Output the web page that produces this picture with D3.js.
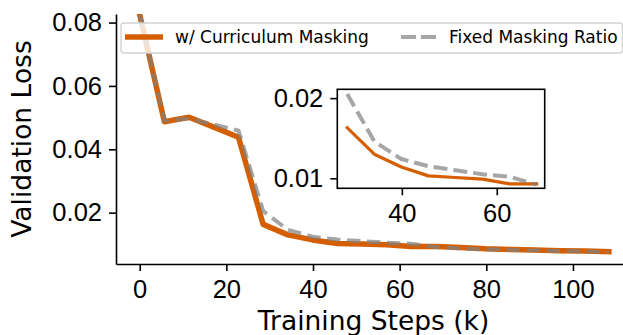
<!DOCTYPE html>
<html>
<head>
<meta charset="utf-8">
<script src="https://cdn.jsdelivr.net/npm/d3@7"></script>
<style>
  body { margin: 0; background: #fff; }
  svg { display: block; font-family: "DejaVu Sans", sans-serif; }
</style>
</head>
<body>
<svg id="chart" width="623" height="335"></svg>
<script>
// training steps (k)
const steps = [0, 5.7, 11.4, 17.1, 22.8, 28.5, 34.2, 39.9, 45.6, 51.3, 57.0, 62.7, 68.4, 74.1, 79.8, 85.5, 91.2, 96.9, 102.6, 108.3];
const curriculumLoss = [0.0825, 0.0487, 0.0501, 0.0470, 0.0438, 0.0163, 0.0130, 0.0114, 0.0103, 0.0101, 0.0099, 0.0093, 0.0093, 0.0090, 0.0086, 0.0084, 0.0082, 0.0080, 0.0079, 0.0077];
const fixedLoss = [0.0825, 0.0490, 0.0497, 0.0478, 0.0459, 0.0205, 0.0146, 0.0124, 0.0115, 0.0110, 0.0105, 0.0102, 0.0092, 0.0087, 0.0084, 0.0083, 0.0081, 0.0079, 0.0078, 0.0076];
const seriesNames = ["w/ Curriculum Masking", "Fixed Masking Ratio"];
const xTicks = [0, 20, 40, 60, 80, 100];
const yTicks = [0.02, 0.04, 0.06, 0.08];
const insetRange = [5, 12]; // index range shown in the zoom box
const insetXTicks = [40, 60];
const insetYTicks = [0.01, 0.02];

const orange = "#d55e00";
const gray = "#808080";

const svg = d3.select("#chart");

// main axes
const x = d3.scaleLinear().domain([-5.47, 113.4]).range([116, 631]);
const y = d3.scaleLinear().domain([0.0038, 0.0827]).range([264, 14]);

svg.append("defs").append("clipPath").attr("id", "mainclip")
    .append("rect").attr("x", 116).attr("y", 14).attr("width", 515).attr("height", 250);

function styleAxis(g) {
    g.selectAll("path.domain").attr("stroke", "#000").attr("stroke-width", 1.6);
    g.selectAll(".tick line").attr("stroke", "#000").attr("stroke-width", 1.6);
    g.selectAll(".tick text").attr("fill", "#000").style("font-size", "25.5px");
}

const xAxis = svg.append("g")
    .attr("transform", "translate(0,264)")
    .call(d3.axisBottom(x).tickValues(xTicks).tickSize(7).tickSizeOuter(0).tickPadding(9).tickFormat(d3.format("d")));
styleAxis(xAxis);

const yAxis = svg.append("g")
    .attr("transform", "translate(116,0)")
    .call(d3.axisLeft(y).tickValues(yTicks).tickSize(7).tickSizeOuter(0).tickPadding(7).tickFormat(d3.format(".2f")));
styleAxis(yAxis);

svg.append("text")
    .attr("transform", "translate(31,139) rotate(-90)")
    .attr("text-anchor", "middle")
    .style("font-size", "26.5px")
    .text("Validation Loss");

svg.append("text")
    .attr("x", 373.5).attr("y", 330)
    .attr("text-anchor", "middle")
    .style("font-size", "26.5px")
    .text("Training Steps (k)");

const mainLine = (vals) => d3.line()
    .x((d, i) => x(steps[i]))
    .y(d => y(d))(vals);

const plot = svg.append("g").attr("clip-path", "url(#mainclip)");
plot.append("path")
    .attr("d", mainLine(curriculumLoss))
    .attr("fill", "none")
    .attr("stroke", orange)
    .attr("stroke-width", 5.5)
    .attr("stroke-linejoin", "round")
    .attr("stroke-linecap", "square");
plot.append("path")
    .attr("d", mainLine(fixedLoss))
    .attr("fill", "none")
    .attr("stroke", gray)
    .attr("stroke-opacity", 0.7)
    .attr("stroke-width", 4)
    .attr("stroke-dasharray", "13.5,6.5");

// legend
const legend = svg.append("g");
legend.append("rect")
    .attr("x", 121).attr("y", 23).attr("width", 501.5).attr("height", 30)
    .attr("rx", 3)
    .attr("fill", "#fff").attr("fill-opacity", 0.8)
    .attr("stroke", "#d3d3d3").attr("stroke-width", 1.4);
legend.append("line")
    .attr("x1", 125).attr("x2", 163).attr("y1", 37).attr("y2", 37)
    .attr("stroke", orange).attr("stroke-width", 5.5);
legend.append("text")
    .attr("x", 175).attr("y", 43)
    .style("font-size", "17px")
    .text(seriesNames[0]);
legend.append("line")
    .attr("x1", 401).attr("x2", 436).attr("y1", 37).attr("y2", 37)
    .attr("stroke", gray).attr("stroke-opacity", 0.7)
    .attr("stroke-width", 4).attr("stroke-dasharray", "15,5");
legend.append("text")
    .attr("x", 449).attr("y", 43)
    .style("font-size", "17px")
    .text(seriesNames[1]);

// inset
const ix = d3.scaleLinear().domain([26.4, 70.1]).range([337.3, 544.7]);
const iy = d3.scaleLinear().domain([0.00875, 0.0211]).range([188.3, 89.3]);

const inset = svg.append("g");
inset.append("rect")
    .attr("x", 337.3).attr("y", 89.3).attr("width", 207.4).attr("height", 99)
    .attr("fill", "#fff");

const idx = d3.range(insetRange[0], insetRange[1] + 1);
const insetLine = (vals) => d3.line()
    .x(i => ix(steps[i]))
    .y(i => iy(vals[i]))(idx);

inset.append("path")
    .attr("d", insetLine(curriculumLoss))
    .attr("fill", "none")
    .attr("stroke", orange)
    .attr("stroke-width", 3.2)
    .attr("stroke-linejoin", "round")
    .attr("stroke-linecap", "square");
inset.append("path")
    .attr("d", insetLine(fixedLoss))
    .attr("fill", "none")
    .attr("stroke", gray)
    .attr("stroke-opacity", 0.7)
    .attr("stroke-width", 4)
    .attr("stroke-dasharray", "14,6");

const ixAxis = inset.append("g")
    .attr("transform", "translate(0,188.3)")
    .call(d3.axisBottom(ix).tickValues(insetXTicks).tickSize(7).tickSizeOuter(0).tickPadding(9).tickFormat(d3.format("d")));
styleAxis(ixAxis);
ixAxis.select("path.domain").remove();

const iyAxis = inset.append("g")
    .attr("transform", "translate(337.3,0)")
    .call(d3.axisLeft(iy).tickValues(insetYTicks).tickSize(7).tickSizeOuter(0).tickPadding(7).tickFormat(d3.format(".2f")));
styleAxis(iyAxis);
iyAxis.select("path.domain").remove();

inset.append("rect")
    .attr("x", 337.3).attr("y", 89.3).attr("width", 207.4).attr("height", 99)
    .attr("fill", "none")
    .attr("stroke", "#000").attr("stroke-width", 1.6);
</script>
</body>
</html>
